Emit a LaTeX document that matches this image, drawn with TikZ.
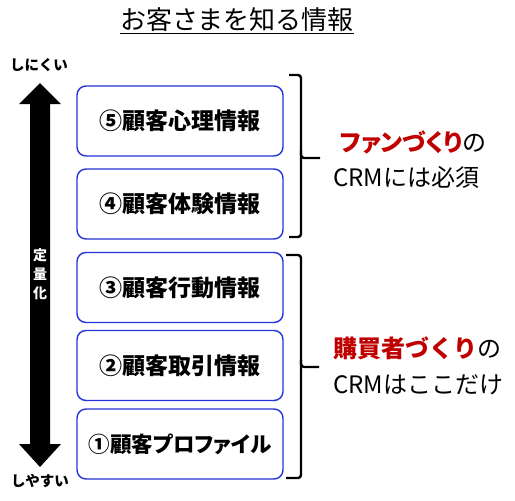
\documentclass[tikz,border=0pt]{standalone}
\usepackage{fontspec}
\setmainfont{Noto Sans CJK JP}
\newfontfamily\jppalt[RawFeature=+palt]{Noto Sans CJK JP}
\definecolor{boxblue}{HTML}{2433D6}
\definecolor{darkred}{HTML}{C00000}
\begin{document}
\begin{tikzpicture}[x=1pt,y=-1pt,
  infobox/.style={draw=boxblue, line width=1.4pt, rounded corners=9pt, minimum width=206pt, minimum height=70pt, inner sep=0pt, font=\jppalt\fontsize{23}{27}\selectfont\bfseries},
  bracestyle/.style={draw=black, line width=2.4pt, rounded corners=3pt},
  side/.style={font=\fontsize{24}{28}\selectfont, anchor=west, inner sep=0pt},
  endlabel/.style={font=\fontsize{14.5}{16}\selectfont\bfseries, inner sep=0pt}]
\useasboundingbox (0,0) rectangle (515,501);
% title
\node[font=\fontsize{26}{30}\selectfont, inner sep=0pt] (title) at (237,21) {\underline{お客さまを知る情報}};
% boxes
\node[infobox] (b5) at (180,121) {⑤顧客心理情報};
\node[infobox] (b4) at (180,204) {④顧客体験情報};
\node[infobox] (b3) at (180,287.5) {③顧客行動情報};
\node[infobox] (b2) at (180,365.5) {②顧客取引情報};
\node[infobox, font=\jppalt\fontsize{21.5}{26}\selectfont\bfseries] (b1) at (180,444) {①顧客プロファイル};
% double arrow
\fill[black] (40,83) -- (61,104) -- (50,104) -- (50,444) -- (61,444) -- (40,467) -- (19,444) -- (30,444) -- (30,104) -- (19,104) -- cycle;
\node[font=\fontsize{14}{19}\selectfont\bfseries, text=white, align=center, inner sep=0pt] (quant) at (40,274) {定\\量\\化};
\node[endlabel] (top) at (39,65) {しにくい};
\node[endlabel] (bot) at (40,481) {しやすい};
% braces
\draw[bracestyle] (289,75) -- (301,75) -- (301,158) -- (320,158);
\draw[bracestyle] (301,150) -- (301,237) -- (289,237);
\draw[bracestyle] (286,255) -- (301,255) -- (301,367) -- (319,367);
\draw[bracestyle] (301,360) -- (301,478) -- (286,478);
% side texts
\node[side] (t1) at (340,142) {{\jppalt\bfseries\textcolor{darkred}{ファンづくり}}の};
\node[side] (t2) at (333,177) {CRMには必須};
\node[side] (t3) at (333,348) {\textcolor{darkred}{\bfseries 購買者づくり}の};
\node[side] (t4) at (333,385) {CRMはここだけ};
\end{tikzpicture}
\end{document}
